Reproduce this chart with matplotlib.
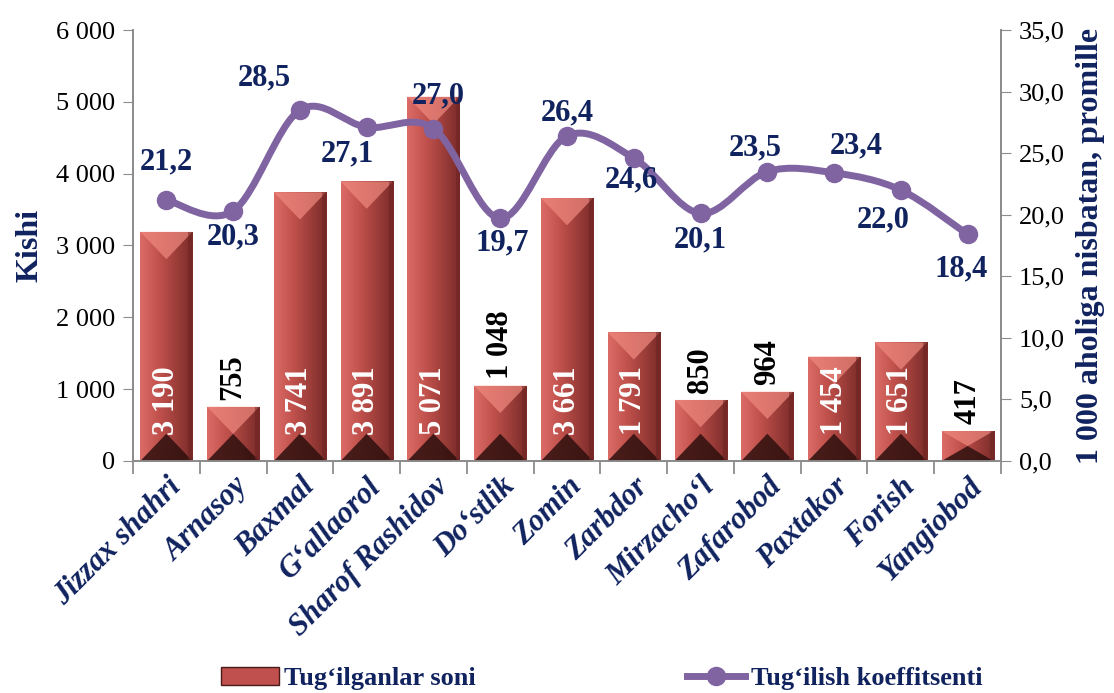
import numpy as np
import matplotlib
matplotlib.use("Agg")
import matplotlib.pyplot as plt
from matplotlib.path import Path
from matplotlib.patches import PathPatch, Polygon, Rectangle
from matplotlib.lines import Line2D
from matplotlib.ticker import FuncFormatter

# data
districts = ["Jizzax shahri", "Arnasoy", "Baxmal", "G\u2018allaorol", "Sharof Rashidov",
             "Do\u2018stlik", "Zomin", "Zarbdor", "Mirzacho\u2018l", "Zafarobod",
             "Paxtakor", "Forish", "Yangiobod"]
births = [3190, 755, 3741, 3891, 5071, 1048, 3661, 1791, 850, 964, 1454, 1651, 417]
rate = [21.2, 20.3, 28.5, 27.1, 27.0, 19.7, 26.4, 24.6, 20.1, 23.5, 23.4, 22.0, 18.4]

# label offsets for the rate labels (pixels)
rate_offsets = [(0, 38), (0, -26), (-36, 32), (-19, -27), (5, 33), (2, -25), (0, 23),
                (-2, -22), (0, -26), (-12, 24), (22, 27), (-18, -30), (-6, -34)]

navy = "#10235f"
purple = "#8064a2"
serif = ["Liberation Serif", "DejaVu Serif"]
plt.rcParams["font.family"] = serif

fig = plt.figure(figsize=(11.14, 6.93), dpi=100)
ax = fig.add_axes([0.1194, 0.3348, 0.7792, 0.6219])
ax2 = ax.twinx()

x = np.arange(len(births))
w = 0.78
ax.set_xlim(-0.5, len(births) - 0.5)
ax.set_ylim(0, 6000)
ax2.set_ylim(0, 35)

# gradient for bar body
grad = np.linspace(0, 1, 60)
c_left = np.array([0.86, 0.42, 0.40])
c_mid = np.array([0.76, 0.32, 0.30])
c_right = np.array([0.48, 0.17, 0.16])
cols = np.where(grad[:, None] < 0.35,
                c_left + (c_mid - c_left) * (grad[:, None] / 0.35),
                c_mid + (c_right - c_mid) * ((grad[:, None] - 0.35) / 0.65))
img = np.tile(cols[None, :, :], (2, 1, 1))

bevel = 380
bars = ax.bar(x, births, width=w, color="none", edgecolor="none", zorder=2)
for xi, h, b in zip(x, births, bars):
    x0, x1 = xi - w / 2, xi + w / 2
    im = ax.imshow(img, extent=[x0, x1, 0, h], aspect="auto", zorder=2, interpolation="bilinear")
    im.set_clip_path(b)
    bh = min(bevel, h / 2)
    # top bevel (light)
    ax.add_patch(Polygon([[x0, h], [x1, h], [xi, h - bh]], closed=True,
                         facecolor="#f08a80", alpha=0.7, edgecolor="none", zorder=3))
    # bottom bevel (dark)
    ax.add_patch(Polygon([[x0, 0], [x1, 0], [xi, bh]], closed=True,
                         facecolor="#2e100e", alpha=0.85, edgecolor="none", zorder=3))
    # side shading
    ax.add_patch(Rectangle((x1 - 0.06, 0), 0.06, h, facecolor="#6e2422", alpha=0.5,
                           edgecolor="none", zorder=3))

# bar value labels
for xi, h in zip(x, births):
    txt = f"{h:,}".replace(",", " ")
    if h > 1400:
        ax.text(xi, 360, txt, rotation=90, ha="center", va="bottom", color="white",
                fontsize=22, fontweight="bold", zorder=6)
    else:
        ax.text(xi, h + 100, txt, rotation=90, ha="center", va="bottom", color="black",
                fontsize=22, fontweight="bold", zorder=6)

# smoothed line (Catmull-Rom bezier through the points)
pts = np.column_stack([x, rate]).astype(float)
ext = np.vstack([pts[0], pts, pts[-1]])
verts = [tuple(pts[0])]
codes = [Path.MOVETO]
for i in range(len(pts) - 1):
    p0, p1, p2, p3 = ext[i], ext[i + 1], ext[i + 2], ext[i + 3]
    c1 = p1 + (p2 - p0) / 6
    c2 = p2 - (p3 - p1) / 6
    verts += [tuple(c1), tuple(c2), tuple(p2)]
    codes += [Path.CURVE4] * 3
ax2.add_patch(PathPatch(Path(verts, codes), facecolor="none", edgecolor=purple,
                        linewidth=5, capstyle="round", zorder=4))
ax2.plot(x, rate, linestyle="none", marker="o", markersize=13, color=purple, zorder=5)

for xi, r, (dx, dy) in zip(x, rate, rate_offsets):
    ax2.annotate(f"{r:.1f}".replace(".", ","), (xi, r), xytext=(dx, dy),
                 textcoords="offset pixels", ha="center", va="center",
                 color=navy, fontsize=22, fontweight="bold", zorder=6)

# axes styling
for a in (ax, ax2):
    a.spines["top"].set_visible(False)
    for s in ("left", "right", "bottom"):
        a.spines[s].set_color("#8c8c8c")
        a.spines[s].set_linewidth(1.3)

ax.set_yticks(np.arange(0, 6001, 1000))
ax.yaxis.set_major_formatter(FuncFormatter(lambda v, p: f"{int(v):,}".replace(",", " ")))
ax2.set_yticks(np.arange(0, 35.1, 5))
ax2.yaxis.set_major_formatter(FuncFormatter(lambda v, p: f"{v:.1f}".replace(".", ",")))
ax.tick_params(axis="y", labelsize=19, length=7, color="#8c8c8c", pad=6)
ax2.tick_params(axis="y", labelsize=19, length=7, color="#8c8c8c", pad=6)

ax.set_xticks(x)
ax.set_xticklabels(districts, rotation=45, ha="right", rotation_mode="anchor",
                   fontsize=22, fontweight="bold", fontstyle="italic", color=navy)
ax.tick_params(axis="x", length=0, pad=8)
ax.set_xticks(np.arange(-0.5, len(births), 1), minor=True)
ax.tick_params(axis="x", which="minor", length=9, color="#8c8c8c", width=1.3)

ax.set_ylabel("Kishi", fontsize=23, fontweight="bold", color=navy, labelpad=8)
ax2.set_ylabel("1 000 aholiga nisbatan, promille", fontsize=23, fontweight="bold",
               color=navy, labelpad=8)

# legend
h_bar = Rectangle((0, 0), 1, 1, facecolor="#c0504d", edgecolor="#4a1a18")
h_line = Line2D([], [], color=purple, linewidth=5, marker="o", markersize=13)
fig.legend([h_bar, h_line], ["Tug\u2018ilganlar soni", "Tug\u2018ilish koeffitsenti"],
           loc="lower center", bbox_to_anchor=(0.54, -0.03), ncol=2, frameon=False,
           prop={"family": serif, "weight": "bold", "size": 19}, labelcolor=navy,
           columnspacing=8, handlelength=2.2, handletextpad=0.2)

fig.savefig("out.png", dpi=100)
